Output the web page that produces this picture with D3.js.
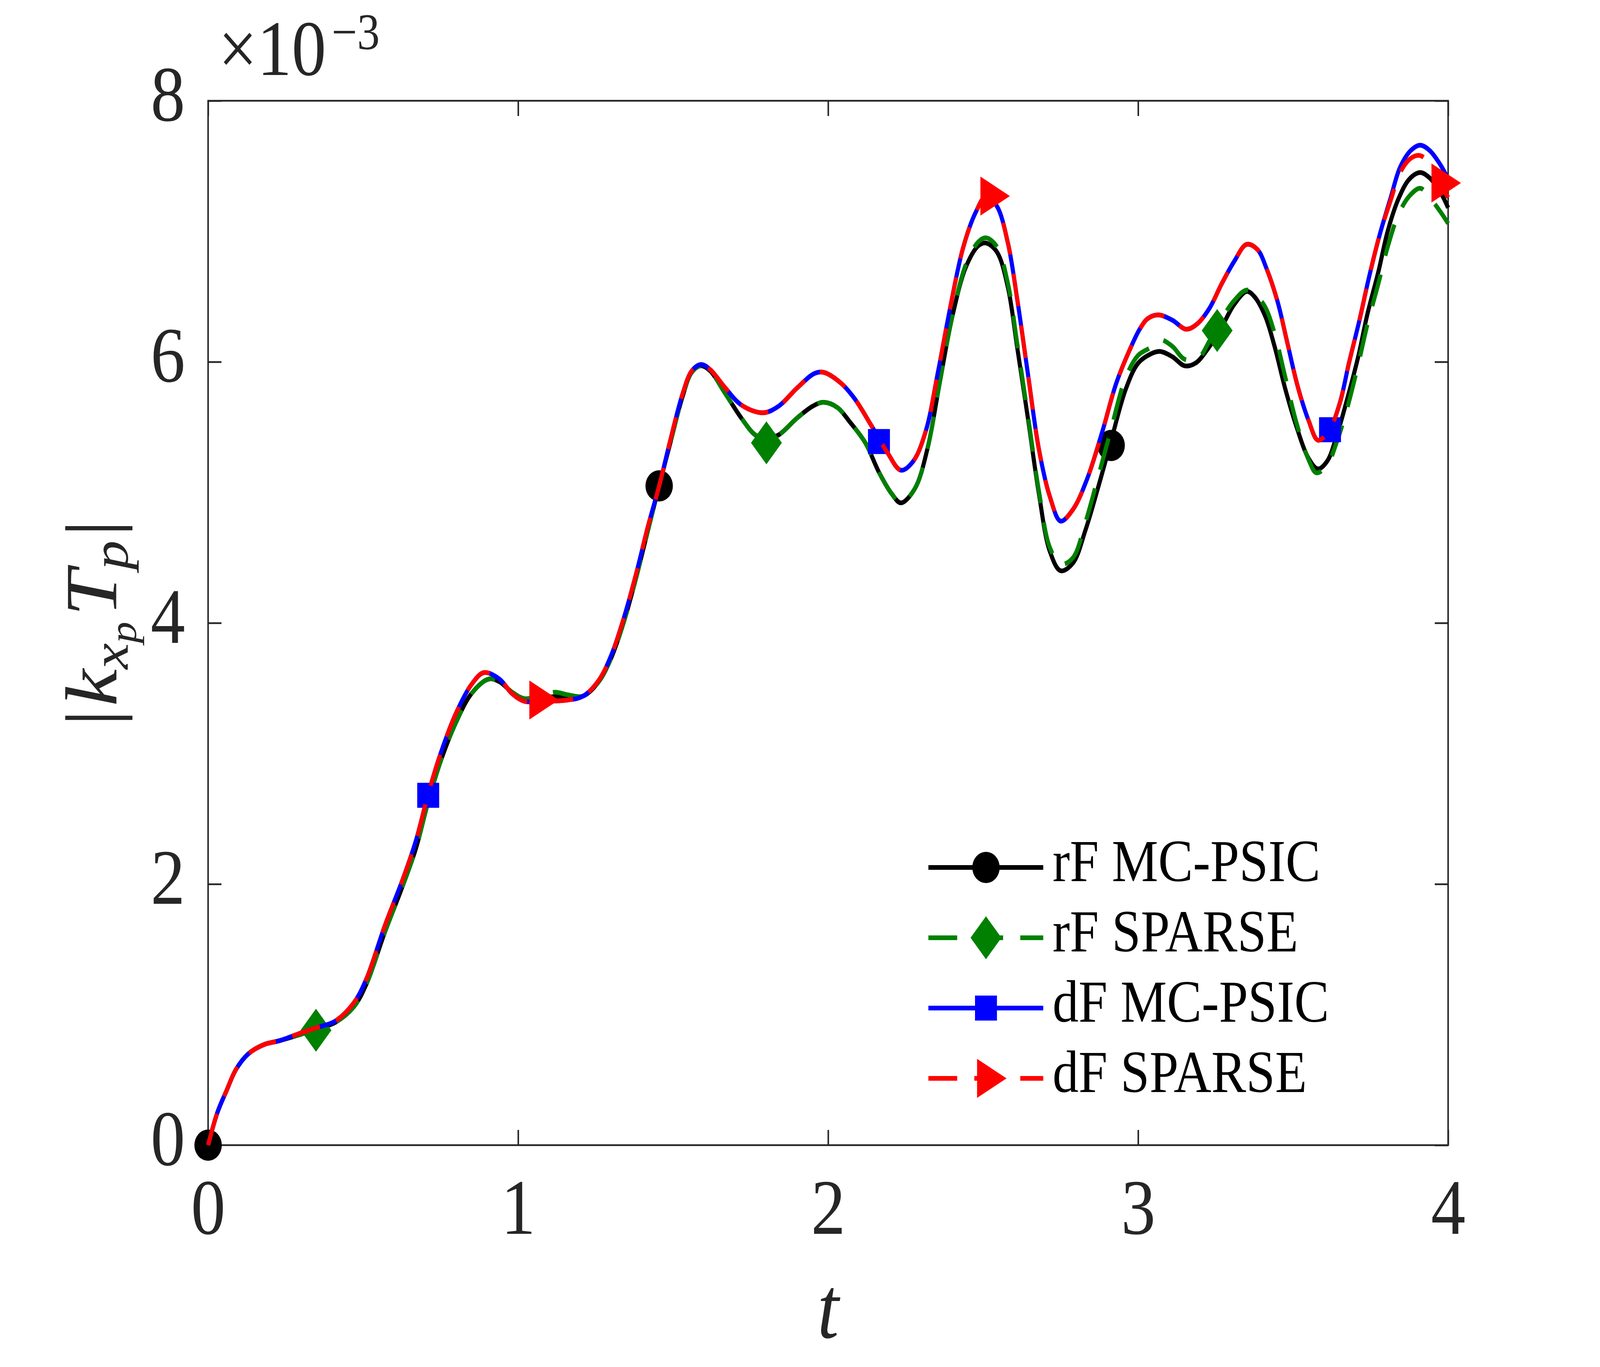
<!DOCTYPE html>
<html>
<head>
<meta charset="utf-8">
<script src="https://cdn.jsdelivr.net/npm/d3@7"></script>
<style>
  html, body { margin: 0; padding: 0; background: #fff; overflow: hidden; }
  #chart svg { display: block; width: 100vw; height: 100vh; }
</style>
</head>
<body>
<div id="chart"></div>
<script>
// values are |k T| in units of 1e-3 as [t, value]
var rfMcpsic = [[0,0],[0.03,0.25],[0.06,0.42],[0.09,0.58],[0.13,0.70],[0.18,0.77],[0.23,0.80],[0.30,0.85],[0.35,0.89],[0.41,0.94],
  [0.47,1.06],[0.51,1.23],[0.57,1.63],[0.63,2.00],[0.67,2.27],[0.71,2.63],[0.75,2.94],[0.80,3.24],[0.85,3.46],[0.905,3.57],
  [0.94,3.55],[0.98,3.47],[1.02,3.42],[1.08,3.43],[1.16,3.44],[1.21,3.44],[1.26,3.55],[1.30,3.73],[1.34,4.00],[1.38,4.34],
  [1.42,4.72],[1.455,5.05],[1.49,5.37],[1.53,5.73],[1.56,5.92],[1.59,5.97],[1.62,5.93],[1.665,5.77],[1.72,5.57],[1.765,5.44],
  [1.80,5.41],[1.84,5.44],[1.90,5.57],[1.95,5.66],[1.985,5.69],[2.03,5.65],[2.07,5.54],[2.12,5.38],[2.165,5.15],[2.205,4.99],
  [2.235,4.92],[2.28,5.03],[2.32,5.33],[2.36,5.84],[2.40,6.34],[2.445,6.73],[2.485,6.89],[2.51,6.91],[2.545,6.84],[2.58,6.57],
  [2.61,6.11],[2.645,5.56],[2.68,4.99],[2.715,4.55],[2.75,4.40],[2.79,4.46],[2.83,4.71],[2.87,5.03],[2.91,5.37],[2.96,5.79],
  [3.00,5.99],[3.04,6.06],[3.07,6.08],[3.11,6.04],[3.15,5.97],[3.185,5.99],[3.225,6.10],[3.27,6.27],[3.31,6.44],[3.35,6.54],
  [3.375,6.50],[3.41,6.35],[3.44,6.12],[3.475,5.79],[3.51,5.51],[3.55,5.26],[3.58,5.18],[3.61,5.24],[3.64,5.43],[3.675,5.72],
  [3.71,6.04],[3.74,6.37],[3.775,6.69],[3.805,7.00],[3.84,7.25],[3.875,7.40],[3.91,7.45],[3.94,7.41],[3.975,7.30],[4.0,7.18]];

var rfSparse = [[0,0],[0.03,0.25],[0.06,0.42],[0.09,0.58],[0.13,0.70],[0.18,0.77],[0.23,0.80],[0.30,0.85],[0.35,0.89],[0.41,0.94],
  [0.47,1.06],[0.51,1.23],[0.57,1.63],[0.63,2.00],[0.67,2.27],[0.71,2.63],[0.75,2.94],[0.80,3.24],[0.85,3.46],[0.905,3.57],
  [0.94,3.55],[0.98,3.47],[1.02,3.42],[1.08,3.45],[1.12,3.47],[1.16,3.45],[1.21,3.44],[1.26,3.55],[1.30,3.73],[1.34,4.00],[1.38,4.34],
  [1.42,4.72],[1.455,5.05],[1.49,5.37],[1.53,5.73],[1.56,5.92],[1.59,5.97],[1.62,5.93],[1.665,5.77],[1.72,5.57],[1.765,5.44],
  [1.80,5.41],[1.84,5.44],[1.90,5.57],[1.95,5.66],[1.985,5.69],[2.03,5.65],[2.07,5.54],[2.12,5.38],[2.165,5.15],[2.205,4.99],
  [2.235,4.92],[2.28,5.03],[2.32,5.33],[2.36,5.84],[2.40,6.34],[2.445,6.75],[2.485,6.92],[2.51,6.95],[2.545,6.88],[2.58,6.60],
  [2.61,6.14],[2.645,5.58],[2.68,5.01],[2.715,4.58],[2.75,4.45],[2.79,4.50],[2.83,4.77],[2.87,5.11],[2.91,5.46],[2.96,5.88],
  [3.00,6.05],[3.04,6.11],[3.07,6.17],[3.11,6.12],[3.15,6.02],[3.195,6.03],[3.23,6.16],[3.27,6.33],[3.31,6.47],[3.35,6.55],
  [3.38,6.51],[3.41,6.42],[3.44,6.22],[3.475,5.88],[3.51,5.54],[3.55,5.25],[3.575,5.15],[3.61,5.21],[3.64,5.38],[3.675,5.65],
  [3.71,5.98],[3.74,6.29],[3.775,6.60],[3.805,6.88],[3.84,7.13],[3.875,7.27],[3.91,7.33],[3.94,7.26],[3.975,7.15],[4.0,7.06]];

var dfMcpsic = [[0,0],[0.03,0.25],[0.06,0.42],[0.09,0.58],[0.13,0.70],[0.18,0.77],[0.23,0.80],[0.30,0.86],[0.35,0.90],[0.41,0.95],
  [0.47,1.09],[0.51,1.27],[0.57,1.68],[0.63,2.05],[0.67,2.33],[0.71,2.69],[0.75,3.00],[0.80,3.31],[0.85,3.53],[0.89,3.62],
  [0.94,3.57],[0.98,3.46],[1.02,3.40],[1.08,3.40],[1.16,3.41],[1.21,3.44],[1.26,3.56],[1.30,3.75],[1.34,4.03],[1.38,4.37],
  [1.42,4.75],[1.455,5.05],[1.49,5.39],[1.53,5.75],[1.56,5.93],[1.59,5.98],[1.62,5.94],[1.665,5.81],[1.72,5.67],[1.79,5.61],
  [1.84,5.66],[1.90,5.80],[1.955,5.91],[1.985,5.92],[2.04,5.84],[2.085,5.72],[2.14,5.51],[2.19,5.31],[2.235,5.17],[2.275,5.24],
  [2.315,5.47],[2.355,5.93],[2.395,6.43],[2.435,6.87],[2.475,7.14],[2.51,7.27],[2.545,7.19],[2.58,6.91],[2.61,6.48],[2.645,5.90],
  [2.68,5.33],[2.715,4.97],[2.75,4.78],[2.79,4.87],[2.835,5.10],[2.885,5.47],[2.93,5.84],[2.98,6.13],[3.005,6.25],[3.03,6.33],
  [3.065,6.36],[3.11,6.32],[3.155,6.25],[3.19,6.29],[3.23,6.41],[3.27,6.60],[3.31,6.77],[3.35,6.90],[3.385,6.86],[3.415,6.71],
  [3.45,6.46],[3.48,6.16],[3.515,5.81],[3.55,5.55],[3.58,5.40],[3.615,5.47],[3.65,5.68],[3.68,5.99],[3.715,6.33],[3.745,6.65],
  [3.78,6.98],[3.815,7.26],[3.845,7.49],[3.88,7.62],[3.91,7.66],[3.94,7.62],[3.975,7.51],[4.0,7.40]];

var dfSparse = [[0,0],[0.03,0.25],[0.06,0.42],[0.09,0.58],[0.13,0.70],[0.18,0.77],[0.23,0.80],[0.30,0.86],[0.35,0.90],[0.41,0.95],
  [0.47,1.09],[0.51,1.27],[0.57,1.68],[0.63,2.05],[0.67,2.33],[0.71,2.69],[0.75,3.00],[0.80,3.31],[0.85,3.53],[0.89,3.62],
  [0.94,3.57],[0.98,3.46],[1.02,3.40],[1.08,3.40],[1.16,3.41],[1.21,3.44],[1.26,3.56],[1.30,3.75],[1.34,4.03],[1.38,4.37],
  [1.42,4.75],[1.455,5.05],[1.49,5.39],[1.53,5.75],[1.56,5.93],[1.59,5.98],[1.62,5.94],[1.665,5.81],[1.72,5.67],[1.79,5.61],
  [1.84,5.66],[1.90,5.80],[1.955,5.91],[1.985,5.92],[2.04,5.84],[2.085,5.72],[2.14,5.51],[2.19,5.31],[2.235,5.17],[2.275,5.24],
  [2.315,5.47],[2.355,5.93],[2.395,6.43],[2.435,6.87],[2.475,7.14],[2.51,7.27],[2.545,7.19],[2.58,6.91],[2.61,6.48],[2.645,5.90],
  [2.68,5.33],[2.715,4.97],[2.75,4.78],[2.79,4.87],[2.835,5.10],[2.885,5.47],[2.93,5.84],[2.98,6.13],[3.005,6.25],[3.03,6.33],
  [3.065,6.36],[3.11,6.32],[3.155,6.25],[3.19,6.29],[3.23,6.41],[3.27,6.60],[3.31,6.77],[3.35,6.90],[3.385,6.86],[3.415,6.71],
  [3.45,6.46],[3.48,6.16],[3.515,5.81],[3.55,5.55],[3.58,5.40],[3.615,5.47],[3.65,5.68],[3.68,5.99],[3.715,6.33],[3.745,6.65],
  [3.78,6.98],[3.815,7.24],[3.845,7.45],[3.88,7.56],[3.91,7.58],[3.94,7.52],[3.975,7.37],[4.0,7.26]];

// marker positions along each curve
var rfMcpsicMarks = [[0,0],[1.455,5.05],[2.913,5.36]];
var rfSparseMarks = [[0.348,0.88],[1.801,5.38],[3.255,6.24]];
var dfMcpsicMarks = [[0.71,2.68],[2.164,5.39],[3.619,5.48]];
var dfSparseMarks = [[1.065,3.41],[2.52,7.27],[3.975,7.37]];

var seriesNames = ['rF MC-PSIC', 'rF SPARSE', 'dF MC-PSIC', 'dF SPARSE'];
var xTicks = [0, 1, 2, 3, 4];
var yTicks = [0, 2, 4, 6, 8];

var w = 4667;
var h = 3500;
var plotLeft = 607, plotRight = 4224, plotTop = 258, plotBottom = 2932;
var axisColor = '#262626';
var serif = '"Liberation Serif", "DejaVu Serif", serif';

var series = [
  { name: seriesNames[0], data: rfMcpsic, marks: rfMcpsicMarks, color: '#000000', dash: null, marker: 'circle' },
  { name: seriesNames[1], data: rfSparse, marks: rfSparseMarks, color: '#008000', dash: '84,50', marker: 'diamond' },
  { name: seriesNames[2], data: dfMcpsic, marks: dfMcpsicMarks, color: '#0000ff', dash: null, marker: 'square' },
  { name: seriesNames[3], data: dfSparse, marks: dfSparseMarks, color: '#ff0000', dash: '84,50', marker: 'triangle' }
];

// marker outlines around (0,0)
var markerPath = function(type) {
  if (type == 'circle') return d3.symbol(d3.symbolCircle, Math.PI * 40 * 40)();
  if (type == 'square') return 'M-32,-32L32,-32L32,32L-32,32Z';
  if (type == 'diamond') return 'M0,-55L45,0L0,55L-45,0Z';
  return 'M-26,-50L60,0L-26,50Z';
};

var x = d3.scaleLinear().domain([0, 4]).range([plotLeft, plotRight]);
var y = d3.scaleLinear().domain([0, 8]).range([plotBottom, plotTop]);

// drawn in a 4667x3500 user space, stretched to fill the window
var svg = d3.select('#chart')
  .append('svg')
    .attr('viewBox', '0 0 ' + w + ' ' + h)
    .attr('preserveAspectRatio', 'none')
    .style('background', '#fff');

// axes box and ticks (ticks point inward on all sides)
var styleAxis = function(g) {
  g.select('.domain').remove();
  g.selectAll('.tick line').attr('stroke', axisColor).attr('stroke-width', 4.5);
};

svg.append('g')
  .attr('transform', 'translate(0,' + plotBottom + ')')
  .call(d3.axisBottom(x).tickValues(xTicks).tickSizeInner(-39).tickSizeOuter(0).tickFormat(d3.format('d')))
  .call(styleAxis)
  .call(function(g) {
    g.selectAll('text')
      .attr('y', 227)
      .attr('dy', 0)
      .attr('fill', axisColor)
      .style('font-family', serif)
      .style('font-size', '201px');
  });

svg.append('g')
  .attr('transform', 'translate(' + plotLeft + ',0)')
  .call(d3.axisLeft(y).tickValues(yTicks).tickSizeInner(-39).tickSizeOuter(0).tickPadding(67).tickFormat(d3.format('d')))
  .call(styleAxis)
  .call(function(g) {
    g.selectAll('text')
      .attr('dy', 50)
      .attr('fill', axisColor)
      .style('font-family', serif)
      .style('font-size', '201px');
  });

svg.append('g')
  .attr('transform', 'translate(0,' + plotTop + ')')
  .call(d3.axisTop(x).tickValues(xTicks).tickSizeInner(-39).tickSizeOuter(0).tickFormat(''))
  .call(styleAxis);

svg.append('g')
  .attr('transform', 'translate(' + plotRight + ',0)')
  .call(d3.axisRight(y).tickValues(yTicks).tickSizeInner(-39).tickSizeOuter(0).tickFormat(''))
  .call(styleAxis);

svg.append('rect')
  .attr('x', plotLeft)
  .attr('y', plotTop)
  .attr('width', plotRight - plotLeft)
  .attr('height', plotBottom - plotTop)
  .attr('fill', 'none')
  .attr('stroke', axisColor)
  .attr('stroke-width', 4.5);

// exponent label
var expLabel = svg.append('text')
  .attr('x', 637)
  .attr('y', 192)
  .attr('fill', axisColor)
  .style('font-family', serif)
  .style('font-size', '201px');
expLabel.append('tspan').text('\u00d710');
expLabel.append('tspan')
  .attr('dx', 16)
  .attr('dy', -66)
  .style('font-size', '132px')
  .text('\u22123');

// curves
var line = d3.line()
  .x(d => x(d[0]))
  .y(d => y(d[1]))
  .curve(d3.curveCatmullRom.alpha(0.5));

series.forEach(function(s) {
  svg.append('path')
    .datum(s.data)
    .attr('d', line)
    .attr('fill', 'none')
    .attr('stroke', s.color)
    .attr('stroke-width', 12)
    .attr('stroke-linejoin', 'round')
    .attr('stroke-dasharray', s.dash);

  svg.selectAll(null)
    .data(s.marks)
    .enter()
    .append('path')
      .attr('d', markerPath(s.marker))
      .attr('transform', d => 'translate(' + x(d[0]) + ',' + y(d[1]) + ')')
      .attr('fill', s.color);
});

// axis labels
svg.append('text')
  .attr('x', (plotLeft + plotRight) / 2)
  .attr('y', 3425)
  .attr('text-anchor', 'middle')
  .attr('fill', axisColor)
  .style('font-family', serif)
  .style('font-style', 'italic')
  .style('font-size', '225px')
  .text('t');

var yLabel = svg.append('text')
  .attr('transform', 'translate(340,' + ((plotTop + plotBottom) / 2) + ') rotate(-90)')
  .attr('text-anchor', 'middle')
  .attr('fill', axisColor)
  .style('font-family', serif)
  .style('font-size', '214px');
yLabel.append('tspan').text('|');
yLabel.append('tspan').style('font-style', 'italic').attr('dx', 8).text('k');
yLabel.append('tspan').style('font-style', 'italic').style('font-size', '150px').attr('dy', 33).text('x');
yLabel.append('tspan').style('font-style', 'italic').style('font-size', '110px').attr('dy', 24).text('p');
yLabel.append('tspan').style('font-style', 'italic').attr('dx', 14).attr('dy', -57).text('T');
yLabel.append('tspan').style('font-style', 'italic').style('font-size', '150px').attr('dy', 33).text('p');
yLabel.append('tspan').attr('dx', 10).attr('dy', -33).text('|');

// legend
var legend = svg.selectAll('.legend-item')
  .data(series)
  .enter()
  .append('g')
    .attr('class', 'legend-item')
    .attr('transform', (d, i) => 'translate(0,' + (2221 + i * 180) + ')');

legend.append('line')
  .attr('x1', 2708)
  .attr('x2', 3043)
  .attr('y1', 0)
  .attr('y2', 0)
  .attr('stroke', d => d.color)
  .attr('stroke-width', 12)
  .attr('stroke-dasharray', d => d.dash);

legend.append('path')
  .attr('d', d => markerPath(d.marker))
  .attr('transform', 'translate(2876,0)')
  .attr('fill', d => d.color);

legend.append('text')
  .attr('x', 3070)
  .attr('y', 35)
  .attr('fill', '#000')
  .style('font-family', serif)
  .style('font-size', '152px')
  .text(d => d.name);
</script>
</body>
</html>
